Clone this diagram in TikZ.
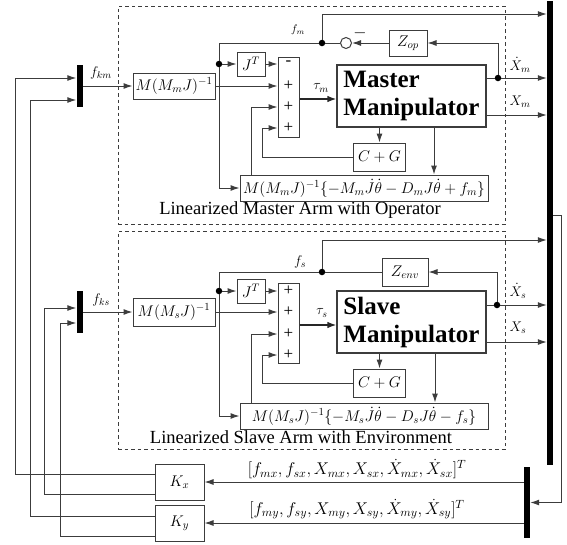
\RequirePackage{fix-cm}
\documentclass[tikz,border=0pt]{standalone}
\usepackage{fontspec}
\setmainfont{Liberation Serif}
\usetikzlibrary{arrows.meta}
\definecolor{lc}{RGB}{60,60,60}
\tikzset{
  ln/.style={draw=lc, line width=1pt},
  arr/.style={draw=lc, line width=1pt, -{Latex[length=9pt,width=6pt]}},
  tau/.style={draw=black!85, line width=1.6pt, -{Latex[length=9pt,width=6.5pt]}},
  blk/.style={draw=lc, line width=1pt, fill=white, inner sep=0pt, font=\fontsize{15.5}{18}\selectfont},
  bar/.style={fill=black, inner sep=0pt, minimum width=6pt},
  jdot/.style={circle, fill=black, inner sep=0pt, minimum size=6.5pt},
  lbl/.style={inner sep=0pt, font=\fontsize{14}{16}\selectfont},
  smalllbl/.style={inner sep=0pt, font=\fontsize{11}{13}\selectfont},
  sgn/.style={inner sep=0pt, font=\fontsize{17}{17}\selectfont},
  dbox/.style={draw=lc, line width=0.8pt, dash pattern=on 3.5pt off 3pt, inner sep=0pt},
  plant/.style={draw=lc, line width=1.1pt, fill=white, align=left, inner sep=2pt,
    font=\fontsize{25}{28}\selectfont\bfseries, minimum width=149pt, minimum height=62pt},
  title/.style={inner sep=0pt, anchor=base, font=\fontsize{18.5}{20}\selectfont},
  vec/.style={inner sep=0pt, font=\fontsize{17}{19}\selectfont},
}
\begin{document}
\begin{tikzpicture}[x=1pt,y=-1pt]
\useasboundingbox (0,0) rectangle (567,544);
% ---------------- dashed groups
\node[dbox, minimum width=387pt, minimum height=218pt] (dashM) at (311.5,115) {};
\node[dbox, minimum width=387pt, minimum height=218pt] (dashS) at (311.5,340) {};
\node[title] (labM) at (300,214) {Linearized Master Arm with Operator};
\node[title] (labS) at (301,443) {Linearized Slave Arm with Environment};
% ---------------- bars
\node[bar, minimum height=464pt] (BB) at (550,233) {};
\node[bar, minimum height=71pt] (LB) at (527,502.5) {};
\node[bar, minimum height=42pt] (bkm) at (79.5,86) {};
\node[bar, minimum height=42pt] (bks) at (79.5,312) {};
\node[lbl] (lfkm) at (101,73) {$f_{km}$};
\node[lbl] (lfks) at (101,300) {$f_{ks}$};
% ---------------- master blocks
\node[blk, minimum width=82pt, minimum height=26pt] (MMm) at (174,86) {$M(M_mJ)^{-1}$};
\node[blk, minimum width=28pt, minimum height=24pt] (JTm) at (251,64) {$J^T$};
\node[blk, minimum width=21pt, minimum height=80pt] (Sm) at (288.5,97) {};
\node[sgn] (sm1) at (288.5,63) {-};
\node[sgn] (sm2) at (288.5,86) {+};
\node[sgn] (sm3) at (288.5,107) {+};
\node[sgn] (sm4) at (288.5,128) {+};
\node[plant] (Pm) at (411.5,96) {Master\\Manipulator};
\node[blk, minimum width=38pt, minimum height=26pt] (Zop) at (408,43) {$Z_{op}$};
\node[circle, draw=lc, line width=1pt, fill=white, minimum size=11pt, inner sep=0pt] (cm) at (346,43) {};
\node[sgn] (cmm) at (360,33) {$-$};
\node[blk, minimum width=52pt, minimum height=28pt] (CGm) at (379.5,157) {$C+G$};
\node[blk, minimum width=248pt, minimum height=26pt] (Bm) at (364,188) {$M(M_mJ)^{-1}\{-M_m\dot J\dot\theta-D_mJ\dot\theta+f_m\}$};
\node[jdot] (d1m) at (322,43) {};
\node[jdot] (d2m) at (219,64) {};
\node[jdot] (d3m) at (498,78) {};
\node[smalllbl] (lfm) at (298,30) {$f_m$};
\node[lbl] (ltm) at (321,88) {$\tau_m$};
\node[lbl] (lxdm) at (520,65) {$\dot X_m$};
\node[lbl] (lxm) at (520,102) {$X_m$};
% ---------------- slave blocks
\node[blk, minimum width=82pt, minimum height=28pt] (MMs) at (174,312) {$M(M_sJ)^{-1}$};
\node[blk, minimum width=28pt, minimum height=24pt] (JTs) at (251,291) {$J^T$};
\node[blk, minimum width=21pt, minimum height=80pt] (Ss) at (288.5,323) {};
\node[sgn] (ss1) at (288.5,291) {+};
\node[sgn] (ss2) at (288.5,312) {+};
\node[sgn] (ss3) at (288.5,334) {+};
\node[sgn] (ss4) at (288.5,355) {+};
\node[plant] (Ps) at (411.5,322) {Slave\\Manipulator};
\node[blk, minimum width=46pt, minimum height=28pt] (Zenv) at (405,272) {$Z_{env}$};
\node[blk, minimum width=52pt, minimum height=28pt] (CGs) at (379.5,383) {$C+G$};
\node[blk, minimum width=248pt, minimum height=26pt] (Bs) at (364,416) {$M(M_sJ)^{-1}\{-M_s\dot J\dot\theta-D_sJ\dot\theta-f_s\}$};
\node[jdot] (d1s) at (322,272) {};
\node[jdot] (d2s) at (219,291) {};
\node[jdot] (d3s) at (497,305) {};
\node[lbl] (lfs) at (300,262) {$f_s$};
\node[lbl] (lts) at (322,313) {$\tau_s$};
\node[lbl] (lxds) at (518,291) {$\dot X_s$};
\node[lbl] (lxs) at (518,328) {$X_s$};
% ---------------- gains
\node[blk, minimum width=49pt, minimum height=36pt] (Kx) at (179.5,482) {$K_x$};
\node[blk, minimum width=49pt, minimum height=36pt] (Ky) at (179.5,523) {$K_y$};
\node[vec] (vx) at (357,469) {$[f_{mx},f_{sx},X_{mx},X_{sx},\dot X_{mx},\dot X_{sx}]^T$};
\node[vec] (vy) at (357,509) {$[f_{my},f_{sy},X_{my},X_{sy},\dot X_{my},\dot X_{sy}]^T$};
% ================= master connectors
\draw[arr] (bkm.east) -- (MMm.west);
\draw[arr] (MMm.east) -- (Sm.west |- MMm.east);
\draw[arr] (JTm.east) -- (Sm.west |- JTm.east);
\draw[arr] (d2m) -- (JTm.west);
\draw[tau] (Sm.east |- 0,99) -- (Pm.west |- 0,99);
\draw[arr] (Zop.west) -- (cm.east);
\draw[ln] (cm.west) -- (d1m) -- (219,43) -- (d2m);
\draw[arr] (d2m) -- (219,188) -- (Bm.west);
\draw[arr] (d1m) -- (322,14) -- (BB.west |- 0,14);
\draw[ln] (Pm.east |- d3m) -- (d3m);
\draw[arr] (d3m) -- (BB.west |- d3m);
\draw[arr] (d3m) |- (Zop.east);
\draw[arr] (Pm.east |- 0,115) -- (BB.west |- 0,115);
\draw[arr] (Pm.south -| CGm.north) -- (CGm.north);
\draw[arr] (Pm.south -| 434,0) -- (Bm.north -| 434,0);
\draw[arr] (CGm.west) -- (262,157) |- (Sm.west |- sm4);
\draw[arr] (Bm.north -| 251,0) |- (Sm.west |- sm3);
% ================= slave connectors
\draw[arr] (bks.east) -- (MMs.west);
\draw[arr] (MMs.east) -- (Ss.west |- MMs.east);
\draw[arr] (JTs.east) -- (Ss.west |- JTs.east);
\draw[arr] (d2s) -- (JTs.west);
\draw[tau] (Ss.east |- 0,325) -- (Ps.west |- 0,325);
\draw[ln] (Zenv.west) -- (d1s) -- (219,272) -- (d2s);
\draw[arr] (d2s) -- (219,416) -- (Bs.west);
\draw[arr] (d1s) -- (322,240) -- (BB.west |- 0,240);
\draw[ln] (Ps.east |- d3s) -- (d3s);
\draw[arr] (d3s) -- (BB.west |- d3s);
\draw[arr] (d3s) |- (Zenv.east);
\draw[arr] (Ps.east |- 0,342) -- (BB.west |- 0,342);
\draw[arr] (Ps.south -| CGs.north) -- (CGs.north);
\draw[arr] (Ps.south -| 435,0) -- (Bs.north -| 435,0);
\draw[arr] (CGs.west) -- (262,383) |- (Ss.west |- ss4);
\draw[arr] (Bs.north -| 251,0) |- (Ss.west |- ss3);
% ================= outer loop
\draw[arr] (BB.east |- 0,215) -- (561,215) |- (LB.east);
\draw[arr] (LB.west |- Kx) -- (Kx.east);
\draw[arr] (LB.west |- Ky) -- (Ky.east);
\draw[arr] (Kx.west |- 0,474) -- (15,474) |- (bkm.west |- 0,78);
\draw[arr] (Ky.west |- 0,516) -- (30,516) |- (bkm.west |- 0,100);
\draw[arr] (Kx.west |- 0,494) -- (44,494) |- (bks.west |- 0,308);
\draw[arr] (Ky.west |- 0,536) -- (60,536) |- (bks.west |- 0,323);
\end{tikzpicture}
\end{document}
